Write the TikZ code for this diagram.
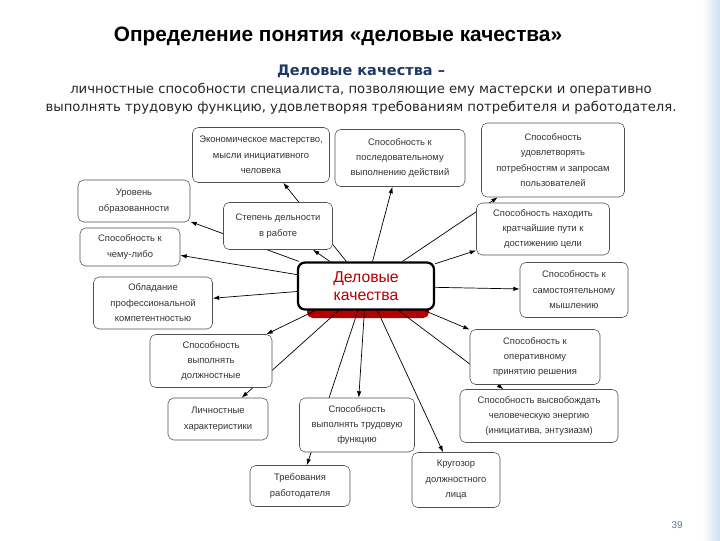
\documentclass[tikz,border=0pt]{standalone}
\usepackage{fontspec}
\setmainfont{Liberation Sans}
\newfontfamily\dqwide{DejaVu Sans}
\usetikzlibrary{arrows.meta, positioning, backgrounds}
\definecolor{dqRed}{RGB}{180,0,0}
\definecolor{dqNavy}{RGB}{31,56,100}
\definecolor{dqEdge}{RGB}{80,80,80}
\definecolor{dqFrame}{RGB}{205,225,240}

\begin{document}
\begin{tikzpicture}[x=0.025cm, y=-0.025cm,
  qbox/.style={draw=dqEdge, fill=white, rounded corners=4pt, align=center,
    font=\fontsize{6.7}{11}\selectfont, text=black!80, inner sep=1pt},
  qarrow/.style={-{Latex[length=1.6mm, width=1.1mm]}, line width=0.5pt}]
\useasboundingbox (0,0) rectangle (720,540);
% slide edge
\fill[left color=white, right color=dqFrame] (702,0) rectangle (720,540);

% heading
\node[font=\fontsize{14.8}{16}\selectfont\bfseries] (title) at (338,36)
  {Определение понятия «деловые качества»};
\node[font=\dqwide\fontsize{10.3}{12}\selectfont\bfseries, text=dqNavy] (sub) at (361,71)
  {Деловые качества –};
\node[font=\dqwide\fontsize{9.4}{12.7}\selectfont, text=black!85, align=center] (def) at (361,99)
  {личностные способности специалиста, позволяющие ему мастерски и оперативно\\
   выполнять трудовую функцию, удовлетворяя требованиям потребителя и работодателя.};

% centre
\begin{scope}[on background layer]
  \fill[dqRed, rounded corners=4pt] (307,292) rectangle (429,318);
\end{scope}
\node[draw=black, line width=1.6pt, fill=white, rounded corners=5pt,
      minimum width=136*0.025cm, minimum height=47*0.025cm, text=dqRed,
      font=\fontsize{11.2}{13}\selectfont, align=center] (dq) at (366,286)
      {Деловые\\качества};

\foreach \nm/\x/\y/\w/\h/\txt in {
   mast/261/155/137/55/{Экономическое мастерство,\\мысли инициативного\\человека},
   posl/400/158/130/57/{Способность к\\последовательному\\выполнению действий},
   potr/553/160/143/74/{Способность\\удовлетворять\\потребностям и запросам\\пользователей},
   obr/134/201/112/42/{Уровень\\образованности},
   step/278/226/109/47/{Степень дельности\\в работе},
   put/543/229/133/52/{Способность находить\\кратчайшие пути к\\достижению цели},
   chem/130/247/100/38/{Способность к\\чему-либо},
   komp/153/303/119/52/{Обладание\\профессиональной\\компетентностью},
   samo/574/290/108/55/{Способность к\\самостоятельному\\мышлению},
   dolzh/211/361/122/53/{Способность\\выполнять\\должностные},
   oper/535/357/130/55/{Способность к\\оперативному\\принятию решения},
   lich/218/419/100/42/{Личностные\\характеристики},
   trud/357/425/115/54/{Способность\\выполнять трудовую\\функцию},
   energ/539/416/158/53/{Способность высвобождать\\человеческую энергию\\(инициатива, энтузиазм)},
   rab/300/486/100/41/{Требования\\работодателя},
   krug/456/480/88/55/{Кругозор\\должностного\\лица}}
{
  \node[qbox, minimum width=\w*0.025cm, minimum height=\h*0.025cm]
       (\nm) at (\x,\y) {\txt};
  \begin{pgfonlayer}{background}
    \draw[qarrow] (dq) -- (\nm);
  \end{pgfonlayer}
}

\node[text=dqNavy!70, font=\fontsize{7}{8}\selectfont] (pg) at (677,525) {39};
\end{tikzpicture}
\end{document}
